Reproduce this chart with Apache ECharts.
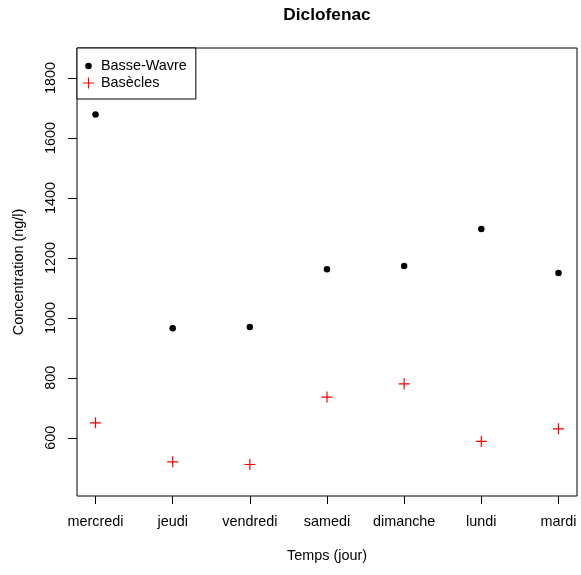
<!DOCTYPE html>
<html>
<head>
<meta charset="utf-8">
<script src="https://cdn.jsdelivr.net/npm/echarts@6/dist/echarts.min.js"></script>
<style>
  html, body { margin: 0; padding: 0; background: #fff; }
  #chart { width: 581px; height: 575px; }
</style>
</head>
<body>
<div id="chart"></div>
<script>
// Diclofenac concentrations per weekday at two sites
const days = ['mercredi', 'jeudi', 'vendredi', 'samedi', 'dimanche', 'lundi', 'mardi'];
const basseWavre = [1678, 965, 970, 1162, 1173, 1296, 1150];
const basecles = [650, 520, 511, 736, 780, 588, 630];
const yTicks = [600, 800, 1000, 1200, 1400, 1600, 1800];
const dayPositions = days.map((d, i) => i + 1);

const FONT = "'Liberation Sans', Arial, sans-serif";
const plusPath = 'path://M9.8,0 H12.2 V9.8 H22 V12.2 H12.2 V22 H9.8 V12.2 H0 V9.8 H9.8 Z';
// small dot inside an 11x11 box so the legend keeps it small
const dotPath = 'path://M0,0 L0.01,0 Z M11,11 L11.01,11 Z M2.2,5.5 A3.3,3.3 0 1 1 8.8,5.5 A3.3,3.3 0 1 1 2.2,5.5 Z';

const chart = echarts.init(document.getElementById('chart'), null, { renderer: 'canvas' });

chart.setOption({
  backgroundColor: '#fff',
  animation: false,
  title: {
    text: 'Diclofenac',
    left: 327,
    textAlign: 'center',
    top: 7,
    padding: 0,
    textStyle: { fontFamily: FONT, fontSize: 17.3, fontWeight: 'bold', color: '#000' }
  },
  grid: {
    left: 77, right: 4, top: 48, bottom: 79,
    show: true, borderColor: '#000', borderWidth: 1, backgroundColor: 'transparent'
  },
  legend: {
    orient: 'vertical',
    left: 77, top: 48,
    padding: [10, 9, 8, 6],
    itemGap: 1,
    itemWidth: 11, itemHeight: 11,
    borderColor: '#000', borderWidth: 1, borderRadius: 0,
    backgroundColor: '#fff',
    textStyle: { fontFamily: FONT, fontSize: 14.4, color: '#000', lineHeight: 16, padding: [0, 0, 0, 2] },
    data: [
      { name: 'Basse-Wavre', icon: dotPath, itemStyle: { color: '#000', opacity: 1 } },
      { name: 'Basècles', icon: plusPath, itemStyle: { color: '#ff0000', opacity: 1 } }
    ]
  },
  xAxis: {
    type: 'value',
    min: 0.76, max: 7.24,
    name: 'Temps (jour)',
    nameLocation: 'middle',
    nameGap: 53,
    nameTextStyle: { fontFamily: FONT, fontSize: 14.4, color: '#000' },
    axisLine: { show: false },
    splitLine: { show: false },
    axisTick: { show: true, length: 8, customValues: dayPositions, lineStyle: { color: '#000' } },
    axisLabel: {
      customValues: dayPositions,
      margin: 19,
      fontFamily: FONT, fontSize: 14.4, color: '#000',
      formatter: v => days[Math.round(v) - 1]
    }
  },
  yAxis: {
    type: 'value',
    min: 406, max: 1900,
    name: 'Concentration (ng/l)',
    nameLocation: 'middle',
    nameGap: 51,
    nameTextStyle: { fontFamily: FONT, fontSize: 14.4, color: '#000' },
    axisLine: { show: false },
    splitLine: { show: false },
    axisTick: { show: true, length: 9, customValues: yTicks, lineStyle: { color: '#000' } },
    axisLabel: {
      customValues: yTicks,
      rotate: 90,
      margin: 19,
      fontFamily: FONT, fontSize: 14.4, color: '#000',
      formatter: v => String(v)
    }
  },
  series: [
    {
      name: 'Basse-Wavre',
      type: 'scatter',
      symbol: 'circle',
      symbolSize: 6.5,
      itemStyle: { color: '#000', opacity: 1 },
      data: basseWavre.map((v, i) => [dayPositions[i], v])
    },
    {
      name: 'Basècles',
      type: 'scatter',
      symbol: plusPath,
      symbolSize: 11,
      itemStyle: { color: '#ff0000', opacity: 1 },
      data: basecles.map((v, i) => [dayPositions[i], v])
    }
  ]
});
</script>
</body>
</html>
